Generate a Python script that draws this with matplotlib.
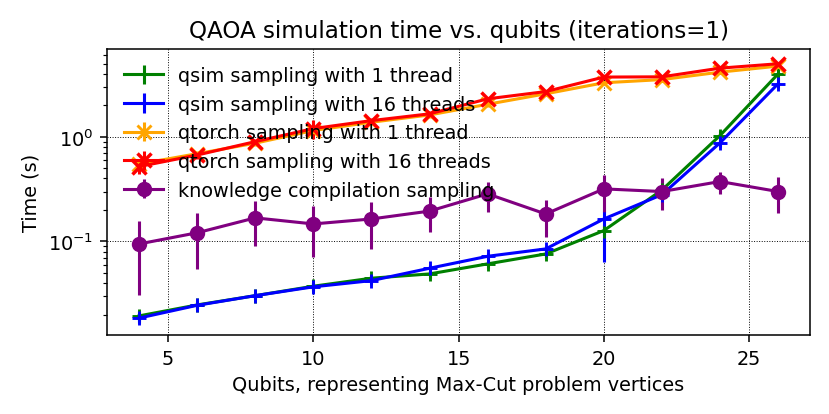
import numpy as np
import matplotlib
matplotlib.use("Agg")
import matplotlib.pyplot as plt

qubits = [4, 6, 8, 10, 12, 14, 16, 18, 20, 22, 24, 26]

# qsim
qsim_1 = [0.0194, 0.0247, 0.0303, 0.0373, 0.0445, 0.0489, 0.061, 0.0759, 0.127, 0.31, 1.03, 4.0]
qsim_1_err = [0.002, 0.002, 0.002, 0.003, 0.003, 0.004, 0.005, 0.007, 0.012, 0.03, 0.1, 0.5]
qsim_16 = [0.0185, 0.0245, 0.0303, 0.0368, 0.0422, 0.0554, 0.0721, 0.0848, 0.164, 0.28, 0.877, 3.22]
qsim_16_lo = [0.002, 0.002, 0.002, 0.003, 0.003, 0.004, 0.005, 0.006, 0.100, 0.03, 0.08, 0.3]
qsim_16_hi = [0.002, 0.002, 0.002, 0.003, 0.003, 0.004, 0.005, 0.006, 0.033, 0.03, 0.08, 0.3]

# qtorch
qtorch_1 = [0.55, 0.69, 0.87, 1.15, 1.38, 1.62, 2.05, 2.58, 3.29, 3.53, 4.16, 4.75]
qtorch_1_err = [0.05, 0.05, 0.06, 0.08, 0.08, 0.1, 0.1, 0.12, 0.15, 0.15, 0.2, 0.2]
qtorch_16 = [0.52, 0.67, 0.9, 1.2, 1.43, 1.66, 2.31, 2.71, 3.73, 3.75, 4.54, 5.0]
qtorch_16_err = [0.08, 0.05, 0.06, 0.25, 0.08, 0.1, 0.12, 0.12, 0.15, 0.15, 0.2, 0.2]

# knowledge compilation
kc = [0.0946, 0.121, 0.168, 0.147, 0.164, 0.195, 0.285, 0.183, 0.318, 0.30, 0.374, 0.30]
kc_low = [0.0308, 0.0546, 0.090, 0.0715, 0.0848, 0.122, 0.19, 0.11, 0.19, 0.20, 0.285, 0.187]
kc_high = [0.158, 0.186, 0.246, 0.220, 0.240, 0.265, 0.368, 0.251, 0.436, 0.402, 0.466, 0.417]

kc_arr = np.array(kc)
kc_yerr = [kc_arr - np.array(kc_low), np.array(kc_high) - kc_arr]

fig = plt.figure(figsize=(6.0, 3.0), dpi=138.33)
ax = fig.add_subplot(111)
fig.subplots_adjust(left=0.129, right=0.976, top=0.88, bottom=0.19)

ax.errorbar(qubits, qsim_1, yerr=qsim_1_err, color="green", marker="+", ms=7, mew=1.5,
            lw=1.6, label="qsim sampling with 1 thread")
ax.errorbar(qubits, qsim_16, yerr=[qsim_16_lo, qsim_16_hi], color="blue", marker="+", ms=7, mew=1.5,
            lw=1.6, label="qsim sampling with 16 threads")
ax.errorbar(qubits, qtorch_1, yerr=qtorch_1_err, color="orange", marker="x", ms=7, mew=1.5,
            lw=1.6, label="qtorch sampling with 1 thread")
ax.errorbar(qubits, qtorch_16, yerr=qtorch_16_err, color="red", marker="x", ms=7, mew=1.8,
            lw=1.6, label="qtorch sampling with 16 threads")
ax.errorbar(qubits, kc, yerr=kc_yerr, color="purple", marker="o", ms=7,
            lw=1.6, label="knowledge compilation sampling")

ax.set_yscale("log")
ax.set_ylim(0.0127, 6.95)
ax.grid(True, which="major", linestyle=":", color="k", linewidth=0.5)
ax.set_title("QAOA simulation time vs. qubits (iterations=1)")
ax.set_xlabel("Qubits, representing Max-Cut problem vertices")
ax.set_ylabel("Time (s)")
ax.legend(loc="upper left", frameon=False)

fig.savefig("out.png", dpi=138.33)
